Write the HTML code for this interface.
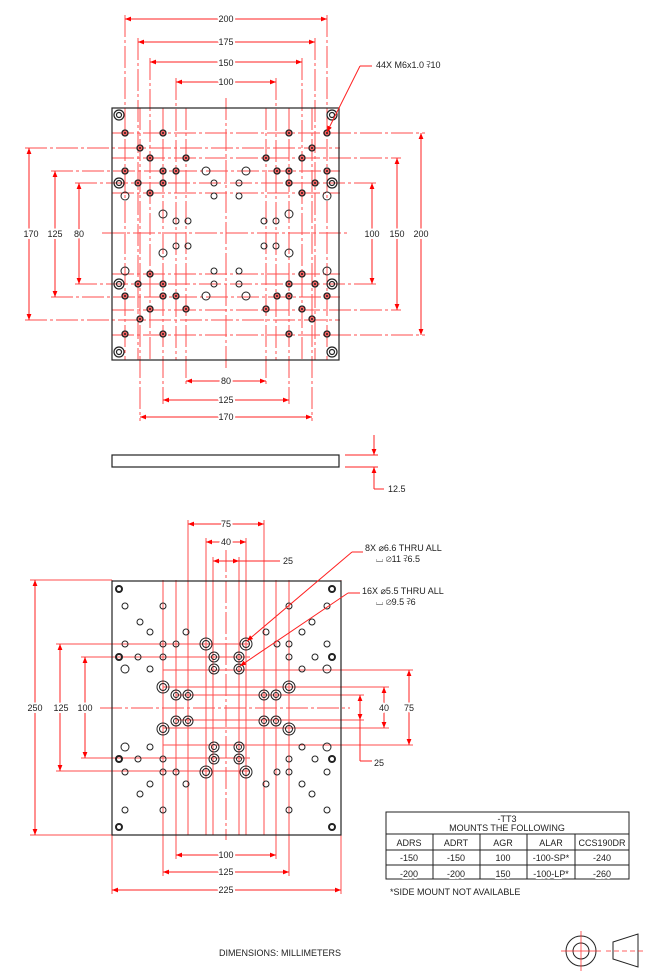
<!DOCTYPE html>
<html><head><meta charset="utf-8"><style>
html,body{margin:0;padding:0;background:#fff}
svg{display:block}
text{font-family:"Liberation Sans",sans-serif;font-size:9px;fill:#222;stroke:#fff;stroke-width:4px;paint-order:stroke;stroke-linejoin:round}
</style></head><body>
<svg id="s" width="650" height="973" viewBox="0 0 650 973" xmlns="http://www.w3.org/2000/svg">
<defs>
<marker id="a" viewBox="0 0 10 10" refX="10" refY="5" markerWidth="6" markerHeight="6" orient="auto-start-reverse"><path d="M0,1 L10,5 L0,9z" fill="#f00"/></marker>
</defs>
<g id="red" stroke="#ff3030" stroke-width="1" fill="none" opacity="0.85"></g>
<g id="blk" stroke="#222" fill="none"></g>
<g id="dims" stroke="#ff2020" stroke-width="1" fill="none"></g>
<g id="txt">
<text x="226" y="22" text-anchor="middle">200</text>
<text x="226" y="45" text-anchor="middle">175</text>
<text x="226" y="66" text-anchor="middle">150</text>
<text x="226" y="85" text-anchor="middle">100</text>
<text x="376" y="68">44X M6x1.0 ⫀10</text>
<text x="31" y="237" text-anchor="middle">170</text>
<text x="55" y="237" text-anchor="middle">125</text>
<text x="79" y="237" text-anchor="middle">80</text>
<text x="372" y="237" text-anchor="middle">100</text>
<text x="397" y="237" text-anchor="middle">150</text>
<text x="421" y="237" text-anchor="middle">200</text>
<text x="226" y="384" text-anchor="middle">80</text>
<text x="226" y="403" text-anchor="middle">125</text>
<text x="226" y="420" text-anchor="middle">170</text>
<text x="388" y="492">12.5</text>
<text x="226" y="527" text-anchor="middle">75</text>
<text x="226" y="545" text-anchor="middle">40</text>
<text x="283" y="564">25</text>
<text x="365" y="551">8X  ⌀6.6 THRU ALL</text>
<text x="376" y="562">⌴ ⌀11 ⫀6.5</text>
<text x="362" y="594">16X  ⌀5.5 THRU ALL</text>
<text x="376" y="605">⌴ ⌀9.5 ⫀6</text>
<text x="35" y="711" text-anchor="middle">250</text>
<text x="61" y="711" text-anchor="middle">125</text>
<text x="85" y="711" text-anchor="middle">100</text>
<text x="384" y="711" text-anchor="middle">40</text>
<text x="409" y="711" text-anchor="middle">75</text>
<text x="374" y="766">25</text>
<text x="226" y="858" text-anchor="middle">100</text>
<text x="226" y="875" text-anchor="middle">125</text>
<text x="226" y="893" text-anchor="middle">225</text>
<text x="507" y="822" text-anchor="middle">-TT3</text>
<text x="507" y="831" text-anchor="middle">MOUNTS THE FOLLOWING</text>
<text x="409" y="846" text-anchor="middle">ADRS</text>
<text x="456" y="846" text-anchor="middle">ADRT</text>
<text x="503" y="846" text-anchor="middle">AGR</text>
<text x="551" y="846" text-anchor="middle">ALAR</text>
<text x="602" y="846" text-anchor="middle">CCS190DR</text>
<text x="409" y="861" text-anchor="middle">-150</text>
<text x="456" y="861" text-anchor="middle">-150</text>
<text x="503" y="861" text-anchor="middle">100</text>
<text x="551" y="861" text-anchor="middle">-100-SP*</text>
<text x="602" y="861" text-anchor="middle">-240</text>
<text x="409" y="877" text-anchor="middle">-200</text>
<text x="456" y="877" text-anchor="middle">-200</text>
<text x="503" y="877" text-anchor="middle">150</text>
<text x="551" y="877" text-anchor="middle">-100-LP*</text>
<text x="602" y="877" text-anchor="middle">-260</text>
<text x="390" y="895">*SIDE MOUNT NOT AVAILABLE</text>
<text x="219" y="956">DIMENSIONS:  MILLIMETERS</text>
</g>
</svg>
<script>
var NS="http://www.w3.org/2000/svg";
function el(g,t,a){var e=document.createElementNS(NS,t);for(var k in a)e.setAttribute(k,a[k]);var p=document.getElementById(g);if(g==='txt'){p.insertBefore(e,p.firstChild);}else p.appendChild(e);return e;}
function L(g,x1,y1,x2,y2,extra){var a={x1:x1,y1:y1,x2:x2,y2:y2};for(var k in extra||{})a[k]=extra[k];return el(g,'line',a);}
function C(cx,cy,r,w,fill){return el('blk','circle',{cx:cx,cy:cy,r:r,'stroke-width':w||1,fill:fill||'none'});}
function dim(x1,y1,x2,y2){L('dims',x1,y1,x2,y2,{'marker-start':'url(#a)','marker-end':'url(#a)'});}
// move text group to top
var s=document.getElementById('s');s.appendChild(document.getElementById('txt'));
var ds={'stroke-dasharray':'22,3,3,3'};
[[125,15,360],[327,15,360],[138,38,360],[315,38,360],[150,58,360],[302,58,360],[176,78,360],[276,78,360],
 [163,108,404],[289,108,404],[186,108,385],[266,108,385],[140,108,421],[312,108,421],[226,98,370]].forEach(function(v){L('red',v[0],v[1],v[0],v[2],ds);});
[[148,25,340],[320,25,340],[171,51,340],[297,51,340],[183,75,376],[284,75,376],[158,112,401],[310,112,401],[133,112,425],[335,112,425],[233,102,350],[193,112,340],[274,112,340]].forEach(function(h){L('red',h[1],h[0],h[2],h[0],ds);});
dim(125,19,327,19);dim(138,42,315,42);dim(150,62,302,62);dim(176,82,276,82);
dim(29,148,29,320);dim(55,171,55,297);dim(79,183,79,284);
dim(372,183,372,284);dim(397,158,397,310);dim(421,133,421,335);
dim(186,381,266,381);dim(163,400,289,400);dim(140,417,312,417);
L('dims',372,66,360,66);L('dims',360,66,327,132,{'marker-end':'url(#a)'});
el('blk','rect',{x:112,y:108,width:227,height:252,'stroke-width':1.2});
function mir(y,c){return 2*c-y;}
var fTop=[[125,133],[163,133],[289,133],[327,133],[140,148],[312,148],[150,158],[186,158],[266,158],[302,158],
 [125,171],[163,171],[176,171],[277,171],[289,171],[327,171],[138,183],[163,183],[289,183],[315,183],[150,193],[302,193]];
fTop.forEach(function(p){[p[1],mir(p[1],233.5)].forEach(function(y){C(p[0],y,3,1.3,'#f66');el('blk','circle',{cx:p[0],cy:y,r:1,fill:'#222',stroke:'none'});});});
var oTop=[[206,171,4],[246,171,4],[214,183,3],[239,183,3],[125,196,4],[214,196,3],[239,196,3],[327,196,4],[163,214,4],[289,214,4],[176,221,3],[188,221,3],[264,221,3],[276,221,3]];
oTop.forEach(function(p){[p[1],mir(p[1],233.5)].forEach(function(y){C(p[0],y,p[2],1);});});
[[119,115],[332,115],[119,183],[332,183]].forEach(function(p){[p[1],mir(p[1],233.5)].forEach(function(y){C(p[0],y,5,1.2);C(p[0],y,2.5,1.2);});});
el('blk','rect',{x:112,y:455,width:227,height:12,'stroke-width':1.2});
L('dims',345,455,378,455);L('dims',345,467,378,467);
L('dims',374,435,374,455,{'marker-end':'url(#a)'});L('dims',374,489,374,467,{'marker-end':'url(#a)'});L('dims',374,489,384,489);
[[188,520,835],[264,520,835],[206,538,835],[246,538,835],[213,557,835],[239,557,835],[176,580,859],[276,580,859],[163,580,876],[289,580,876],[226,550,840]].forEach(function(v){L('red',v[0],v[1],v[0],v[2],v[0]==226?ds:{});});
[[644,56,250],[771,56,250],[657,81,250],[758,81,250],[670,163,413],[745,163,413],[687,163,389],[728,163,389],[695,176,364],[720,176,364],[708,100,350]].forEach(function(h){L('red',h[1],h[0],h[2],h[0],h[0]==708?ds:{});});
L('red',112,580,112,894);L('red',341,580,341,894);L('red',30,580,112,580);L('red',30,835,112,835);
dim(188,524,264,524);dim(206,542,246,542);dim(213,561,239,561);L('dims',239,561,280,561);
dim(35,580,35,835);dim(60,644,60,771);dim(85,657,85,758);
dim(384,687,384,728);dim(409,670,409,745);dim(360,695,360,720);L('dims',360,720,360,761);L('dims',360,761,372,761);
dim(176,855,276,855);dim(163,872,289,872);dim(112,890,341,890);
L('dims',363,552,352,552);L('dims',352,552,247,641,{'marker-end':'url(#a)'});
L('dims',360,593,348,593);L('dims',348,593,240,666,{'marker-end':'url(#a)'});
el('blk','rect',{x:112,y:581,width:229,height:254,'stroke-width':1.2});
var c=708;
var oB=[[125,606,3],[163,606,3],[289,606,3],[327,606,3],[140,622,3],[312,622,3],[150,632,3],[186,632,3],[266,632,3],[302,632,3],
 [125,644,3],[163,644,3],[176,644,3],[277,644,3],[289,644,3],[327,644,3],[138,657,3],[163,657,3],[289,657,3],[315,657,3],
 [125,669,4],[150,669,3],[302,669,3],[327,669,4]];
oB.forEach(function(p){[p[1],mir(p[1],c)].forEach(function(y){C(p[0],y,p[2],1);});});
[[119,589],[332,589],[119,657],[332,657]].forEach(function(p){[p[1],mir(p[1],c)].forEach(function(y){C(p[0],y,3,2);});});
var cb=[[206,644,6],[246,644,6],[214,657,5],[239,657,5],[214,669,5],[239,669,5],[163,687,6],[289,687,6],[176,695,5],[188,695,5],[264,695,5],[276,695,5]];
cb.forEach(function(p){[p[1],mir(p[1],c)].forEach(function(y){C(p[0],y,p[2],1);C(p[0],y,p[2]-2.5,1);});});
el('blk','rect',{x:386,y:812,width:243,height:67,'stroke-width':1});
L('blk',386,834,629,834);L('blk',386,850,629,850);L('blk',386,865,629,865);
[433,480,527,575].forEach(function(x){L('blk',x,834,x,879);});
C(581,951,15,1);C(581,951,8,1);
L('dims',561,951,601,951,{opacity:.7});L('dims',581,931,581,971,{opacity:.7});
el('blk','path',{d:'M613,942 L638,934 L638,967 L613,959 Z','stroke-width':1});
L('dims',606,951,644,951,{'stroke-dasharray':'5,3',opacity:.7});
</script>
</body></html>
